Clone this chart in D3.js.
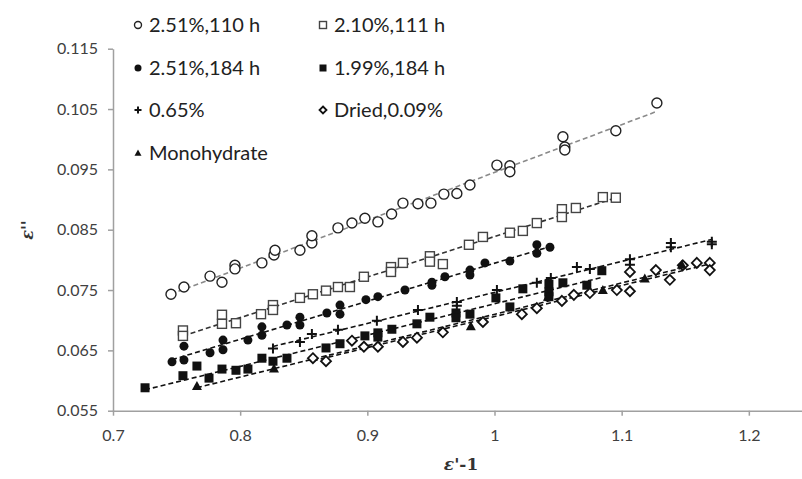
<!DOCTYPE html>
<html><head><meta charset="utf-8">
<script src="https://cdn.jsdelivr.net/npm/d3@7"></script>
<style>body{margin:0;background:#fff}svg{display:block}</style>
</head><body><svg id="c" width="802" height="479"></svg>
<script>
const xTicks=[0.7,0.8,0.9,1,1.1,1.2];
const xTickLabels=["0.7","0.8","0.9","1","1.1","1.2"];
const yTicks=[0.055,0.065,0.075,0.085,0.095,0.105,0.115];
const yTickLabels=["0.055","0.065","0.075","0.085","0.095","0.105","0.115"];
const seriesNames=["2.51%,110 h","2.10%,111 h","2.51%,184 h","1.99%,184 h","0.65%","Dried,0.09%","Monohydrate"];

const wet110=[[0.7456,0.0743],[0.7558,0.0755],[0.7763,0.0773],[0.7857,0.0763],[0.7959,0.0791],[0.7959,0.0785],[0.8171,0.0795],[0.8266,0.0808],[0.8274,0.0816],[0.8470,0.0816],[0.8564,0.0828],[0.8564,0.0840],[0.8769,0.0853],[0.8879,0.0861],[0.8981,0.0869],[0.9083,0.0863],[0.9191,0.0876],[0.9280,0.0894],[0.9398,0.0893],[0.9500,0.0894],[0.9602,0.0909],[0.9704,0.0910],[0.9807,0.0924],[1.0019,0.0957],[1.0121,0.0956],[1.0121,0.0946],[1.0538,0.1004],[1.0553,0.0987],[1.0553,0.0982],[1.0954,0.1014],[1.1277,0.1060]];
const wet111=[[0.7550,0.0683],[0.7550,0.0674],[0.7857,0.0709],[0.7857,0.0694],[0.7967,0.0695],[0.8164,0.0710],[0.8258,0.0725],[0.8258,0.0717],[0.8470,0.0737],[0.8572,0.0743],[0.8675,0.0749],[0.8769,0.0755],[0.8863,0.0755],[0.8973,0.0772],[0.9186,0.0788],[0.9186,0.0780],[0.9280,0.0795],[0.9492,0.0806],[0.9492,0.0797],[0.9594,0.0793],[0.9799,0.0825],[0.9909,0.0838],[1.0121,0.0845],[1.0223,0.0848],[1.0333,0.0861],[1.0530,0.0884],[1.0530,0.0871],[1.0640,0.0886],[1.0852,0.0904],[1.0954,0.0903]];
const wet184=[[0.7464,0.0631],[0.7558,0.0657],[0.7558,0.0634],[0.7763,0.0646],[0.7865,0.0667],[0.7865,0.0651],[0.8061,0.0667],[0.8171,0.0689],[0.8171,0.0675],[0.8368,0.0692],[0.8470,0.0705],[0.8470,0.0692],[0.8682,0.0712],[0.8785,0.0725],[0.8785,0.0710],[0.8989,0.0734],[0.9083,0.0739],[0.9296,0.0750],[0.9508,0.0763],[0.9508,0.0758],[0.9610,0.0772],[0.9807,0.0783],[0.9807,0.0775],[0.9925,0.0795],[1.0121,0.0798],[1.0333,0.0811],[1.0333,0.0825],[1.0436,0.0821]];
const wet199=[[0.7252,0.0588],[0.7550,0.0608],[0.7660,0.0624],[0.7755,0.0604],[0.7857,0.0619],[0.7967,0.0617],[0.8061,0.0619],[0.8171,0.0637],[0.8258,0.0632],[0.8368,0.0637],[0.8675,0.0654],[0.8785,0.0661],[0.8981,0.0674],[0.9083,0.0679],[0.9083,0.0672],[0.9193,0.0685],[0.9390,0.0694],[0.9492,0.0705],[0.9697,0.0712],[0.9697,0.0704],[0.9807,0.0710],[1.0011,0.0737],[1.0121,0.0722],[1.0223,0.0752],[1.0428,0.0760],[1.0428,0.0747],[1.0428,0.0739],[1.0538,0.0762],[1.0726,0.0758],[1.0844,0.0782]];
const moist065=[[0.8258,0.0653],[0.8470,0.0664],[0.8564,0.0677],[0.8769,0.0684],[0.9075,0.0699],[0.9398,0.0717],[0.9704,0.0730],[0.9704,0.0724],[1.0019,0.0750],[1.0333,0.0762],[1.0443,0.0770],[1.0648,0.0788],[1.0750,0.0785],[1.1065,0.0801],[1.1065,0.0792],[1.1387,0.0828],[1.1387,0.0821],[1.1709,0.0830],[1.1709,0.0826]];
const dried009=[[0.8572,0.0637],[0.8675,0.0632],[0.8879,0.0666],[0.8973,0.0656],[0.9083,0.0656],[0.9280,0.0664],[0.9390,0.0671],[0.9594,0.0680],[0.9909,0.0697],[1.0215,0.0710],[1.0333,0.0720],[1.0530,0.0732],[1.0624,0.0742],[1.0750,0.0745],[1.0962,0.0750],[1.1065,0.0748],[1.1065,0.0780],[1.1269,0.0783],[1.1379,0.0767],[1.1481,0.0791],[1.1591,0.0795],[1.1693,0.0795],[1.1693,0.0783]];
const monohydrate=[[0.7660,0.0591],[0.8266,0.0620],[0.9814,0.0690],[1.0420,0.0739],[1.0852,0.0750],[1.1182,0.0769],[1.1473,0.0792]];

const svg=d3.select("#c");
const x=d3.scaleLinear().domain([0.7,1.3]).range([113,876]);
const y=d3.scaleLinear().domain([0.055,0.115]).range([410.7,48.7]);

// markers
function marker(g,type,cx,cy,s){
  const h=s/2;
  if(type==="ocircle") g.append("circle").attr("cx",cx).attr("cy",cy).attr("r",h).attr("fill","#fff").attr("stroke","#222").attr("stroke-width",1.4);
  else if(type==="osquare") g.append("rect").attr("x",cx-h).attr("y",cy-h).attr("width",s).attr("height",s).attr("fill","#fff").attr("stroke","#444").attr("stroke-width",1.4);
  else if(type==="fcircle") g.append("circle").attr("cx",cx).attr("cy",cy).attr("r",h).attr("fill","#111");
  else if(type==="fsquare") g.append("rect").attr("x",cx-h).attr("y",cy-h).attr("width",s).attr("height",s).attr("fill","#111");
  else if(type==="plus") g.append("path").attr("d",`M${cx-h},${cy}H${cx+h}M${cx},${cy-h}V${cy+h}`).attr("stroke","#111").attr("stroke-width",2);
  else if(type==="diamond") g.append("path").attr("d",`M${cx},${cy-h}L${cx+h},${cy}L${cx},${cy+h}L${cx-h},${cy}Z`).attr("fill","#fff").attr("stroke","#111").attr("stroke-width",1.8);
  else if(type==="triangle") g.append("path").attr("d",`M${cx},${cy-h}L${cx+h},${cy+h*0.8}L${cx-h},${cy+h*0.8}Z`).attr("fill","#111");
}

const series=[
 {data:wet110,type:"ocircle",size:10,line:"#8a8a8a"},
 {data:wet111,type:"osquare",size:9,line:"#333"},
 {data:wet184,type:"fcircle",size:9,line:"#111"},
 {data:wet199,type:"fsquare",size:9,line:"#111"},
 {data:moist065,type:"plus",size:10,line:"#111"},
 {data:dried009,type:"diamond",size:10,line:"#111"},
 {data:monohydrate,type:"triangle",size:10,line:"#111"}
];

// axes
const yAxis=svg.append("g").attr("transform","translate(113,0)")
 .call(d3.axisLeft(y).tickValues(yTicks).tickFormat((d,i)=>yTickLabels[i]).tickSize(5).tickSizeOuter(0).tickPadding(10));
const xAxis=svg.append("g").attr("transform","translate(0,410.7)")
 .call(d3.axisBottom(x).tickValues(xTicks).tickFormat((d,i)=>xTickLabels[i]).tickSize(5).tickSizeOuter(0).tickPadding(14));
[yAxis,xAxis].forEach(a=>{
  a.selectAll("path,line").attr("stroke","#a0a0a0").attr("stroke-width",1.5);
  a.selectAll("text").attr("fill","#404040").style("font-family","Lato, 'Open Sans', sans-serif").style("font-size","16px");
});

// trend lines (least squares fit of each series)
const plot=svg.append("g");
series.forEach(s=>{
  const n=s.data.length;
  const mx=d3.mean(s.data,d=>d[0]), my=d3.mean(s.data,d=>d[1]);
  const b=d3.sum(s.data,d=>(d[0]-mx)*(d[1]-my))/d3.sum(s.data,d=>(d[0]-mx)**2);
  const a=my-b*mx;
  const [x0,x1]=d3.extent(s.data,d=>d[0]);
  plot.append("line").attr("x1",x(x0)).attr("y1",y(a+b*x0)).attr("x2",x(x1)).attr("y2",y(a+b*x1))
    .attr("stroke",s.line).attr("stroke-width",1.6).attr("stroke-dasharray","5,3");
});
series.forEach(s=>{
  const g=plot.append("g");
  s.data.forEach(d=>marker(g,s.type,x(d[0]),y(d[1]),s.size));
});

// legend
const legPos=[[138,25],[323,25],[138,68],[323,68],[138,110],[323,110],[138,153]];
const leg=svg.append("g");
series.forEach((s,i)=>{
  const [lx,ly]=legPos[i];
  marker(leg,s.type,lx,ly,7);
  leg.append("text").attr("x",lx+11).attr("y",ly).attr("dy","0.36em")
    .style("font-family","Lato, 'Open Sans', sans-serif").style("font-size","20px").attr("fill","#222").text(seriesNames[i]);
});

// axis titles
svg.append("text").attr("transform","translate(33,230) rotate(-90)").attr("text-anchor","middle")
  .style("font-family","'DejaVu Serif', serif").style("font-style","italic").style("font-weight","bold").style("font-size","16px").attr("fill","#333").text("ε''");
const xt=svg.append("text").attr("x",461).attr("y",470).attr("text-anchor","middle")
  .style("font-family","'DejaVu Serif', serif").style("font-weight","bold").style("font-size","17px").attr("fill","#333");
xt.append("tspan").style("font-style","italic").text("ε");
xt.append("tspan").text("'-1");
</script></body></html>
